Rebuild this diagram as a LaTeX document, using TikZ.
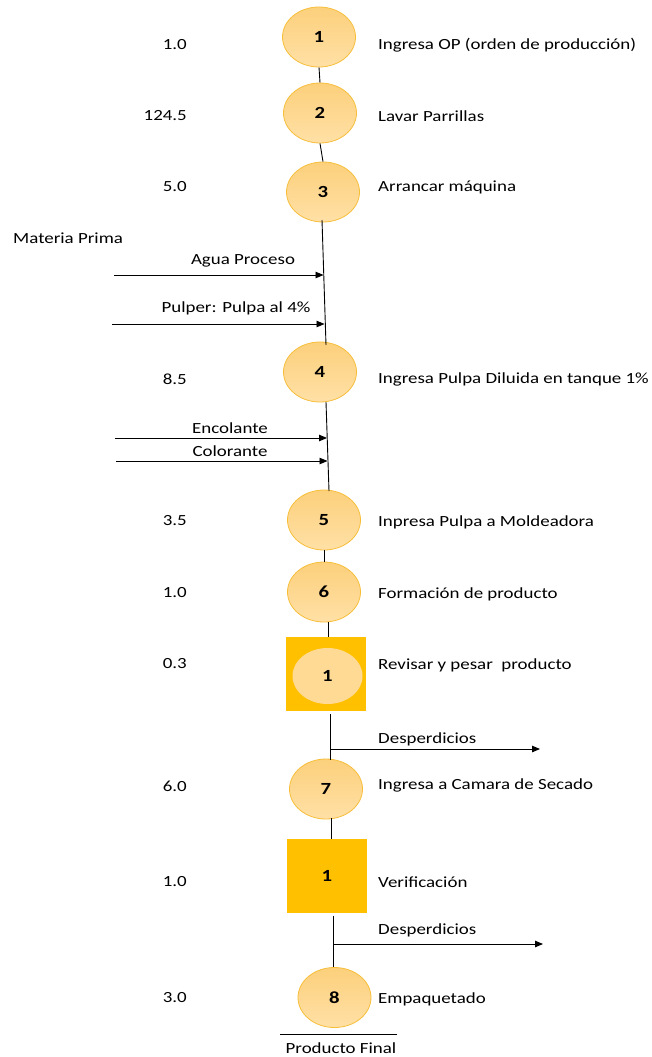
\documentclass[tikz,border=0pt]{standalone}
\usepackage{fontspec}
\setmainfont{Carlito}[FakeStretch=1.22]
\usetikzlibrary{arrows.meta,shapes.geometric}
\definecolor{circtop}{HTML}{FCD07C}
\definecolor{circbot}{HTML}{FFE0A6}
\definecolor{circline}{HTML}{F7BE3A}
\definecolor{sqfill}{HTML}{FFC000}
\definecolor{inner}{HTML}{FFDA95}
\newcommand{\basefont}{\fontsize{15.5}{18}\selectfont}
\newcommand{\numfont}{\fontsize{17}{20}\selectfont\bfseries}
\tikzset{
  op/.style={ellipse, minimum width=73pt, minimum height=60pt, draw=circline, line width=0.8pt, top color=circtop, bottom color=circbot, font=\numfont, inner sep=0pt},
  insp/.style={rectangle, minimum width=80pt, minimum height=74pt, fill=sqfill, font=\numfont, inner sep=0pt},
  innerell/.style={ellipse, minimum width=70pt, minimum height=56pt, fill=inner, font=\numfont, inner sep=0pt},
  lbl/.style={anchor=west, inner sep=0pt},
  num/.style={anchor=east, inner sep=0pt},
  flow/.style={line width=0.9pt},
  arr/.style={line width=0.9pt, -{Triangle[length=8pt,width=6.5pt]}},
}
\begin{document}
\begin{tikzpicture}[x=1pt,y=-1pt, font=\basefont]
\useasboundingbox (0,0) rectangle (651,1057);
% operations
\node[op] (c1) at (319,37) {1};
\node[op] (c2) at (320,113) {2};
\node[op] (c3) at (323,192) {3};
\node[op] (c4) at (320,372) {4};
\node[op] (c5) at (324,520) {5};
\node[op] (c6) at (324,592) {6};
\node[insp] (s1) at (325.5,674) {};
\node[innerell] (e1) at (327.5,676) {1};
\node[op] (c7) at (326,789) {7};
\node[insp] (s2) at (327,876) {1};
\node[op] (c8) at (334.5,997.5) {8};
% vertical connectors
\draw[flow] (c1.south) -- (c2.north);
\draw[flow] (c2.south) -- (c3.north);
\coordinate (p3) at (322,220);
\coordinate (a1) at (323.5,275);
\coordinate (a2) at (324.5,324);
\draw[flow] (p3) -- (326,345);
\coordinate (p4a) at (326,402);
\coordinate (b1) at (327,438);
\coordinate (b2) at (327.5,461);
\draw[flow] (p4a) -- (329,491);
\draw[flow] (c5.south) -- (c6.north);
\draw[flow] (328,622) -- (328,637);
\coordinate (d1) at (330,749);
\draw[flow] (330,714) -- (330,760);
\draw[flow] (331,818) -- (331,839);
\coordinate (d2) at (333,944);
\draw[flow] (333,916) -- (333,967);
% input arrows
\coordinate (i1) at (114,275);
\coordinate (i2) at (112,324);
\coordinate (i3) at (115,438);
\coordinate (i4) at (116,461);
\coordinate (o1) at (540,749);
\coordinate (o2) at (543,944);
\draw[arr] (i1) -- (a1);
\draw[arr] (i2) -- (a2);
\draw[arr] (i3) -- (b1);
\draw[arr] (i4) -- (b2);
\draw[arr] (d1) -- (o1);
\draw[arr] (d2) -- (o2);
\node (t1) at (243,261) {Agua Proceso};
\node (t2) at (236,308) {Pulper: Pulpa al 4\%};
\node (t3) at (230,428) {Encolante};
\node (t4) at (230,451) {Colorante};
\node[anchor=west, inner sep=0pt] (t5) at (378,739) {Desperdicios};
\node[anchor=west, inner sep=0pt] (t6) at (378,930) {Desperdicios};
\node[anchor=west, inner sep=0pt] (mp) at (13,238) {Materia Prima};
% product final
\coordinate (pf1) at (280,1034);
\coordinate (pf2) at (397,1034);
\draw[flow] (pf1) -- (pf2);
\node (pf) at (341,1048) {Producto Final};
% times
\node[num] (n1) at (187,45) {1.0};
\node[num] (n2) at (187,116) {124.5};
\node[num] (n3) at (187,187) {5.0};
\node[num] (n4) at (187,379) {8.5};
\node[num] (n5) at (187,521) {3.5};
\node[num] (n6) at (187,593) {1.0};
\node[num] (n7) at (187,664) {0.3};
\node[num] (n8) at (187,786) {6.0};
\node[num] (n9) at (187,882) {1.0};
\node[num] (n10) at (187,998) {3.0};
% descriptions
\node[lbl] (l1) at (378,45) {Ingresa OP (orden de producción)};
\node[lbl] (l2) at (378,116) {Lavar Parrillas};
\node[lbl] (l3) at (378,187) {Arrancar máquina};
\node[lbl] (l4) at (378,379) {Ingresa Pulpa Diluida en tanque 1\%};
\node[lbl] (l5) at (378,522) {Inpresa Pulpa a Moldeadora};
\node[lbl] (l6) at (378,594) {Formación de producto};
\node[lbl] (l7) at (378,665) {Revisar y pesar\ \ producto};
\node[lbl] (l8) at (378,785) {Ingresa a Camara de Secado};
\node[lbl] (l9) at (378,882) {Verificación};
\node[lbl] (l10) at (378,999) {Empaquetado};
\end{tikzpicture}
\end{document}
